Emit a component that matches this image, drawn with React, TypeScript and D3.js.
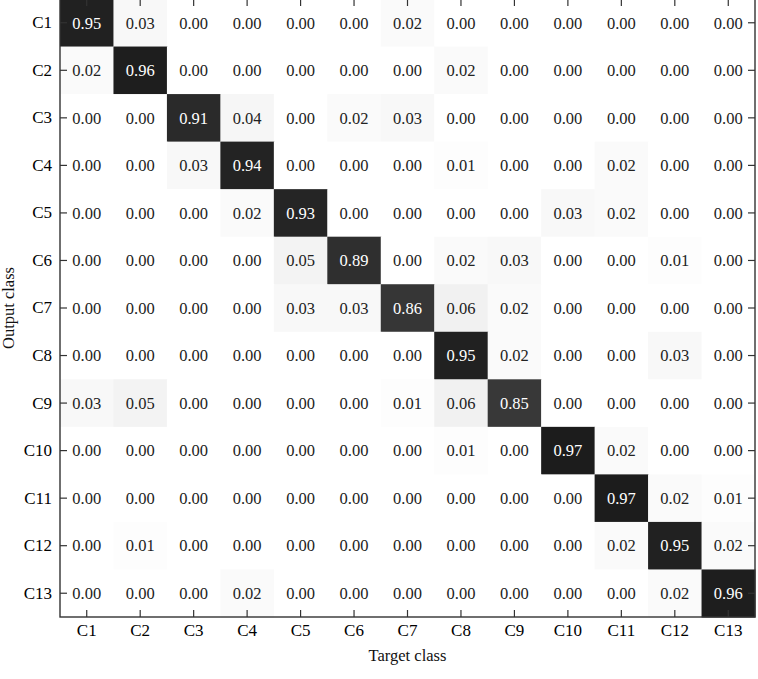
import React, { useEffect, useRef } from 'react';
import * as d3 from 'd3';

const classes = ['C1', 'C2', 'C3', 'C4', 'C5', 'C6', 'C7', 'C8', 'C9', 'C10', 'C11', 'C12', 'C13'];

// rows = output class, columns = target class
const confusion = [
  [0.95, 0.03, 0.00, 0.00, 0.00, 0.00, 0.02, 0.00, 0.00, 0.00, 0.00, 0.00, 0.00],
  [0.02, 0.96, 0.00, 0.00, 0.00, 0.00, 0.00, 0.02, 0.00, 0.00, 0.00, 0.00, 0.00],
  [0.00, 0.00, 0.91, 0.04, 0.00, 0.02, 0.03, 0.00, 0.00, 0.00, 0.00, 0.00, 0.00],
  [0.00, 0.00, 0.03, 0.94, 0.00, 0.00, 0.00, 0.01, 0.00, 0.00, 0.02, 0.00, 0.00],
  [0.00, 0.00, 0.00, 0.02, 0.93, 0.00, 0.00, 0.00, 0.00, 0.03, 0.02, 0.00, 0.00],
  [0.00, 0.00, 0.00, 0.00, 0.05, 0.89, 0.00, 0.02, 0.03, 0.00, 0.00, 0.01, 0.00],
  [0.00, 0.00, 0.00, 0.00, 0.03, 0.03, 0.86, 0.06, 0.02, 0.00, 0.00, 0.00, 0.00],
  [0.00, 0.00, 0.00, 0.00, 0.00, 0.00, 0.00, 0.95, 0.02, 0.00, 0.00, 0.03, 0.00],
  [0.03, 0.05, 0.00, 0.00, 0.00, 0.00, 0.01, 0.06, 0.85, 0.00, 0.00, 0.00, 0.00],
  [0.00, 0.00, 0.00, 0.00, 0.00, 0.00, 0.00, 0.01, 0.00, 0.97, 0.02, 0.00, 0.00],
  [0.00, 0.00, 0.00, 0.00, 0.00, 0.00, 0.00, 0.00, 0.00, 0.00, 0.97, 0.02, 0.01],
  [0.00, 0.01, 0.00, 0.00, 0.00, 0.00, 0.00, 0.00, 0.00, 0.00, 0.02, 0.95, 0.02],
  [0.00, 0.00, 0.00, 0.02, 0.00, 0.00, 0.00, 0.00, 0.00, 0.00, 0.00, 0.02, 0.96],
];

const FONT = '"Liberation Serif", "DejaVu Serif", serif';

const App = () => {
  const svgRef = useRef<SVGSVGElement>(null);

  useEffect(() => {
    const width = 758;
    const height = 679;
    const left = 60, right = 755, top = -1, bottom = 617;

    const svg = d3.select(svgRef.current)
      .attr('width', width)
      .attr('height', height);
    svg.selectAll('*').remove();

    const x = d3.scaleBand().domain(classes).range([left, right]);
    const y = d3.scaleBand().domain(classes).range([top, bottom]);
    const color = d3.scaleLinear<string>().domain([0, 1]).range(['#ffffff', '#151515']);

    const cells = confusion.flatMap((row, i) =>
      row.map((v, j) => ({ out: classes[i], target: classes[j], v }))
    );

    const g = svg.append('g');

    g.selectAll('rect.cell')
      .data(cells)
      .enter()
      .append('rect')
      .attr('class', 'cell')
      .attr('x', d => x(d.target)!)
      .attr('y', d => y(d.out)!)
      .attr('width', x.bandwidth() + 0.5)
      .attr('height', y.bandwidth() + 0.5)
      .attr('fill', d => color(d.v));

    g.selectAll('text.val')
      .data(cells)
      .enter()
      .append('text')
      .attr('class', 'val')
      .attr('x', d => x(d.target)! + x.bandwidth() / 2)
      .attr('y', d => y(d.out)! + y.bandwidth() / 2)
      .attr('dy', '0.35em')
      .attr('text-anchor', 'middle')
      .attr('font-family', FONT)
      .attr('font-size', 16.5)
      .attr('fill', d => (d.v > 0.5 ? '#ffffff' : '#222222'))
      .text(d => d.v.toFixed(2));

    const styleAxis = (sel: d3.Selection<SVGGElement, unknown, null, undefined>, labels: boolean) => {
      sel.select('.domain').remove();
      sel.selectAll('.tick line').attr('stroke', '#333').attr('stroke-width', 1.2);
      if (labels) {
        sel.selectAll('.tick text')
          .attr('font-family', FONT)
          .attr('font-size', 17)
          .attr('fill', '#000');
      } else {
        sel.selectAll('.tick text').remove();
      }
    };

    svg.append('g')
      .attr('transform', `translate(0,${bottom})`)
      .call(d3.axisBottom(x).tickSize(-7).tickPadding(7))
      .call(s => styleAxis(s, true));

    svg.append('g')
      .attr('transform', `translate(0,${top})`)
      .call(d3.axisTop(x).tickSize(-7))
      .call(s => styleAxis(s, false));

    svg.append('g')
      .attr('transform', `translate(${left},0)`)
      .call(d3.axisLeft(y).tickSize(-7).tickPadding(8))
      .call(s => styleAxis(s, true));

    svg.append('g')
      .attr('transform', `translate(${right},0)`)
      .call(d3.axisRight(y).tickSize(-7))
      .call(s => styleAxis(s, false));

    // frame
    svg.append('rect')
      .attr('x', left)
      .attr('y', top)
      .attr('width', right - left)
      .attr('height', bottom - top)
      .attr('fill', 'none')
      .attr('stroke', '#333')
      .attr('stroke-width', 1.4);

    svg.append('text')
      .attr('x', (left + right) / 2)
      .attr('y', 661)
      .attr('text-anchor', 'middle')
      .attr('font-family', FONT)
      .attr('font-size', 16.5)
      .attr('fill', '#111')
      .text('Target class');

    svg.append('text')
      .attr('transform', `translate(14,${(top + bottom) / 2}) rotate(-90)`)
      .attr('text-anchor', 'middle')
      .attr('font-family', FONT)
      .attr('font-size', 16.5)
      .attr('fill', '#111')
      .text('Output class');
  }, []);

  return (
    <svg ref={svgRef} style={{ position: 'absolute', left: 0, top: 0, display: 'block' }}></svg>
  );
};

export default App;
